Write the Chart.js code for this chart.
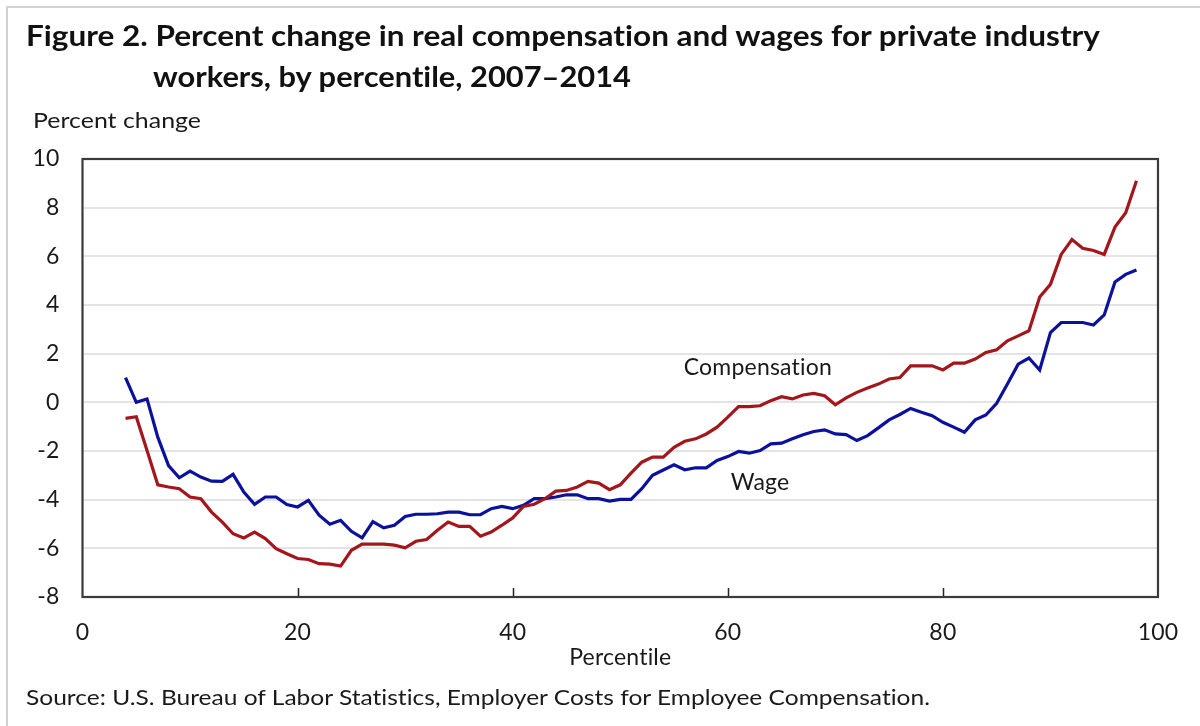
<!DOCTYPE html>
<html>
<head>
<meta charset="utf-8">
<script src="https://cdn.jsdelivr.net/npm/chart.js@4.4.1/dist/chart.umd.min.js"></script>
<style>
  html, body { margin: 0; padding: 0; background: #fff; }
  #wrap { position: relative; width: 1200px; height: 726px; overflow: hidden; background: #fff; }
  #frame { position: absolute; left: 6px; top: 6px; width: 1300px; height: 800px; border-left: 2px solid #d2d2d2; border-top: 2px solid #d2d2d2; }
  canvas { position: absolute; left: 0; top: 0; }
  .txt { position: absolute; white-space: nowrap; line-height: 1; color: #111; font-family: Lato, "Open Sans", sans-serif; transform-origin: 0 0; font-variant-ligatures: none; font-feature-settings: "liga" 0, "clig" 0; }
  .title { font-weight: 700; font-size: 29px; }
  .reg { font-weight: 400; font-size: 22px; color: #1a1a1a; }
</style>
</head>
<body>
<div id="wrap">
  <div id="frame"></div>
  <canvas id="c" width="1200" height="726"></canvas>
  <div class="txt title" style="left:26px; top:20px;" data-w="1074">Figure 2. Percent change in real compensation and wages for private industry</div>
  <div class="txt title" style="left:153px; top:61px;" data-w="478">workers, by percentile, 2007–2014</div>
  <div class="txt reg" style="left:33px; top:109px;" data-w="168">Percent change</div>
  <div class="txt reg" style="left:26px; top:686px;" data-w="904">Source: U.S. Bureau of Labor Statistics, Employer Costs for Employee Compensation.</div>
</div>
<script>
// ---- Data ----
const percentiles = [4,5,6,7,8,9,10,11,12,13,14,15,16,17,18,19,20,21,22,23,24,25,26,27,28,29,30,31,32,33,34,35,36,37,38,39,40,41,42,43,44,45,46,47,48,49,50,51,52,53,54,55,56,57,58,59,60,61,62,63,64,65,66,67,68,69,70,71,72,73,74,75,76,77,78,79,80,81,82,83,84,85,86,87,88,89,90,91,92,93,94,95,96,97,98];

const compensation = [-0.66,-0.59,-1.98,-3.39,-3.48,-3.55,-3.89,-3.96,-4.51,-4.92,-5.40,-5.57,-5.33,-5.60,-6.01,-6.22,-6.42,-6.46,-6.63,-6.65,-6.73,-6.08,-5.83,-5.83,-5.83,-5.87,-5.98,-5.71,-5.64,-5.26,-4.92,-5.10,-5.10,-5.50,-5.33,-5.05,-4.75,-4.28,-4.19,-3.96,-3.65,-3.62,-3.48,-3.25,-3.32,-3.59,-3.39,-2.91,-2.46,-2.25,-2.25,-1.85,-1.60,-1.50,-1.30,-1.02,-0.61,-0.18,-0.18,-0.14,0.07,0.23,0.14,0.30,0.37,0.27,-0.10,0.18,0.41,0.59,0.75,0.96,1.02,1.50,1.50,1.50,1.33,1.61,1.61,1.78,2.05,2.16,2.53,2.73,2.94,4.33,4.85,6.08,6.69,6.33,6.24,6.08,7.20,7.79,9.11];

const wage = [1.02,0.00,0.14,-1.43,-2.60,-3.10,-2.83,-3.07,-3.24,-3.25,-2.96,-3.69,-4.19,-3.89,-3.89,-4.20,-4.30,-4.03,-4.64,-5.01,-4.85,-5.30,-5.57,-4.90,-5.16,-5.05,-4.69,-4.60,-4.60,-4.58,-4.51,-4.51,-4.62,-4.62,-4.37,-4.28,-4.37,-4.23,-3.96,-3.96,-3.89,-3.80,-3.80,-3.96,-3.96,-4.06,-3.99,-3.99,-3.55,-3.00,-2.78,-2.57,-2.77,-2.69,-2.69,-2.39,-2.23,-2.02,-2.09,-1.98,-1.71,-1.68,-1.50,-1.33,-1.20,-1.13,-1.30,-1.33,-1.57,-1.37,-1.05,-0.72,-0.50,-0.25,-0.41,-0.55,-0.82,-1.02,-1.23,-0.72,-0.52,-0.04,0.75,1.57,1.82,1.33,2.87,3.28,3.28,3.28,3.18,3.59,4.95,5.26,5.44];

const xTicks = [0, 20, 40, 60, 80, 100];
const yTicks = [-8, -6, -4, -2, 0, 2, 4, 6, 8, 10];

// series label positions (data coordinates)
const seriesLabels = [
  { text: 'Compensation', x: 62.8, y: 1.41 },
  { text: 'Wage', x: 63.0, y: -3.28 }
];

// ---- fit HTML text widths ----
document.querySelectorAll('.txt[data-w]').forEach(el => {
  const w = el.getBoundingClientRect().width;
  const target = parseFloat(el.dataset.w);
  if (w > 0) el.style.transform = 'scaleX(' + (target / w) + ')';
});

const RED = '#a3161b';
const BLUE = '#0c119c';
const FONT = 'Lato, "Open Sans", sans-serif';

const noLigaturePlugin = {
  id: 'noLig',
  beforeDraw(chart) {
    // a tiny letter spacing stops the "ti" ligature, as in the reference
    try { chart.ctx.letterSpacing = '0.2px'; } catch (e) {}
  }
};

const framePlugin = {
  id: 'frame',
  afterDatasetsDraw(chart) {
    const { ctx, chartArea: a, scales } = chart;
    ctx.save();
    // inner tick marks at bottom
    ctx.strokeStyle = '#222';
    ctx.lineWidth = 1.5;
    xTicks.slice(1, -1).forEach(v => {
      const px = Math.round(scales.x.getPixelForValue(v)) + 0.5;
      ctx.beginPath();
      ctx.moveTo(px, a.bottom);
      ctx.lineTo(px, a.bottom - 9);
      ctx.stroke();
    });
    // plot frame
    ctx.strokeStyle = '#3a3a3a';
    ctx.lineWidth = 2.2;
    ctx.strokeRect(a.left, a.top, a.right - a.left, a.bottom - a.top);
    // series labels
    ctx.fillStyle = '#1a1a1a';
    ctx.font = '23px ' + FONT;
    try { ctx.letterSpacing = '0.2px'; } catch (e) {}
    ctx.textAlign = 'center';
    ctx.textBaseline = 'middle';
    seriesLabels.forEach(l => {
      ctx.fillText(l.text, scales.x.getPixelForValue(l.x), scales.y.getPixelForValue(l.y));
    });
    ctx.restore();
  }
};

new Chart(document.getElementById('c'), {
  type: 'line',
  data: {
    datasets: [
      {
        label: 'Compensation',
        data: percentiles.map((p, i) => ({ x: p, y: compensation[i] })),
        borderColor: RED,
        borderWidth: 3.2,
        pointRadius: 0,
        tension: 0,
        fill: false
      },
      {
        label: 'Wage',
        data: percentiles.map((p, i) => ({ x: p, y: wage[i] })),
        borderColor: BLUE,
        borderWidth: 3.2,
        pointRadius: 0,
        tension: 0,
        fill: false
      }
    ]
  },
  options: {
    responsive: false,
    animation: false,
    devicePixelRatio: 1,
    layout: { padding: { left: 0, top: 159, right: 38.5, bottom: 0 } },
    plugins: { legend: { display: false }, tooltip: { enabled: false }, title: { display: false } },
    scales: {
      x: {
        type: 'linear',
        min: 0, max: 100,
        afterBuildTicks: s => { s.ticks = xTicks.map(v => ({ value: v })); },
        afterFit: s => { s.height = 129; },
        grid: { display: false, drawTicks: false },
        border: { display: false },
        ticks: { color: '#1a1a1a', font: { family: FONT, size: 23 }, padding: 22, maxRotation: 0 },
        title: { display: true, text: 'Percentile', color: '#1a1a1a', font: { family: FONT, size: 23 }, padding: { top: 0, bottom: 55 } }
      },
      y: {
        type: 'linear',
        min: -8, max: 10,
        afterBuildTicks: s => { s.ticks = yTicks.map(v => ({ value: v })); },
        afterFit: s => { s.width = 82.5; },
        grid: {
          drawTicks: false,
          lineWidth: 2,
          color: ctx => (ctx.tick && (ctx.tick.value === 10 || ctx.tick.value === -8)) ? 'rgba(0,0,0,0)' : '#e4e4e4'
        },
        border: { display: false },
        ticks: { color: '#1a1a1a', font: { family: FONT, size: 23 }, padding: 23 }
      }
    }
  },
  plugins: [noLigaturePlugin, framePlugin]
});
</script>
</body>
</html>
